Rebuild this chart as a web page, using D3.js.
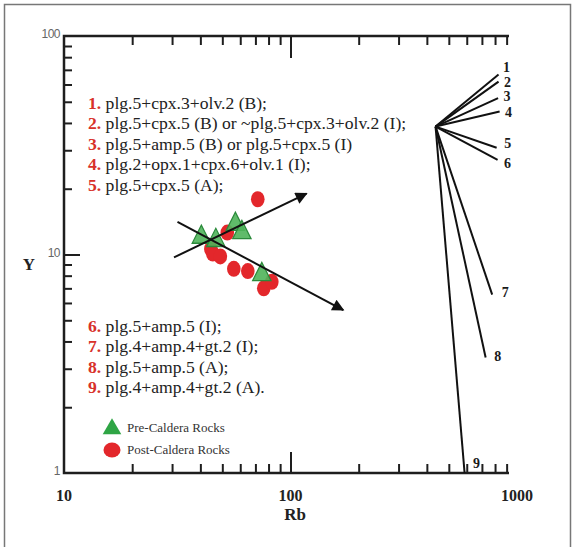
<!DOCTYPE html>
<html>
<head>
<meta charset="utf-8">
<script src="https://cdn.jsdelivr.net/npm/d3@7"></script>
<style>
  body { margin: 0; background: #fff; }
  svg { display: block; }
  .serif { font-family: "Liberation Serif", "DejaVu Serif", serif; }
</style>
</head>
<body>
<svg id="chart" width="575" height="547"></svg>
<script>
'use strict';

// Pre-Caldera samples (Rb, Y)
var preRb = [40.4, 46.8, 57.1, 61.0, 74.7];
var preY  = [12.0, 11.6, 13.75, 12.6, 8.1];

// Post-Caldera samples (Rb, Y)
var postRb = [71.7, 52.6, 44.5, 45.4, 49.0, 56.2, 64.8, 76.2, 82.7];
var postY  = [17.9, 12.6, 10.6, 10.1, 9.8, 8.6, 8.4, 7.0, 7.5];

// trend arrows: start and end (Rb, Y)
var arrowRb0 = [30.6, 31.7];
var arrowY0  = [9.7, 14.1];
var arrowRb1 = [117.7, 171];
var arrowY1  = [19.0, 5.57];

// fractionation vectors, all from one origin
var fanOrigin = [437, 38.5];
var fanRb = [829, 829, 825, 838, 813, 821, 777, 727, 587];
var fanY  = [66.6, 61.8, 52.0, 45.1, 30.8, 27.1, 6.55, 3.38, 1.0];
var fanLabels = ['1', '2', '3', '4', '5', '6', '7', '8', '9'];

// assemblage captions
var modelsTop = [
  'plg.5+cpx.3+olv.2 (B);',
  'plg.5+cpx.5 (B) or ~plg.5+cpx.3+olv.2 (I);',
  'plg.5+amp.5 (B) or plg.5+cpx.5 (I)',
  'plg.2+opx.1+cpx.6+olv.1 (I);',
  'plg.5+cpx.5 (A);'
];
var modelsBottom = [
  'plg.5+amp.5 (I);',
  'plg.4+amp.4+gt.2 (I);',
  'plg.5+amp.5 (A);',
  'plg.4+amp.4+gt.2 (A).'
];

var xMinorTicks = [20, 30, 40, 50, 60, 70, 80, 90, 200, 300, 400, 500, 600, 700, 800, 900];
var yMinorTicks = [2, 3, 4, 5, 6, 7, 8, 9, 20, 30, 40, 50, 60, 70, 80, 90];
var xTickLabels = [10, 100, 1000];
var yTickLabels = [1, 10, 100];

var svg = d3.select('#chart');

var x = d3.scaleLog().domain([10, 1000]).range([64, 517]);
var y = d3.scaleLog().domain([1, 100]).range([473, 36]);

// outer frame
svg.append('rect')
    .attr('x', 4.5).attr('y', 4.5)
    .attr('width', 566).attr('height', 560)
    .attr('fill', 'none')
    .attr('stroke', '#777')
    .attr('stroke-width', 1.5);

var axisColor = '#1e1e1e';
var lineEnd = x(1000) - 8;

function styleTicks(g) {
  g.select('.domain').remove();
  g.selectAll('.tick line').attr('stroke', axisColor).attr('stroke-width', 2);
  g.selectAll('.tick text').remove();
}

// bottom axis, ticks pointing inward
svg.append('g')
    .attr('transform', 'translate(0,' + y(1) + ')')
    .call(d3.axisBottom(x).tickValues(xMinorTicks).tickSize(-9))
    .call(styleTicks);
svg.append('g')
    .attr('transform', 'translate(0,' + y(1) + ')')
    .call(d3.axisBottom(x).tickValues([100]).tickSize(-21))
    .call(styleTicks);

// top axis
svg.append('g')
    .attr('transform', 'translate(0,' + y(100) + ')')
    .call(d3.axisTop(x).tickValues(xMinorTicks).tickSize(-9))
    .call(styleTicks);
svg.append('g')
    .attr('transform', 'translate(0,' + y(100) + ')')
    .call(d3.axisTop(x).tickValues([100]).tickSize(-22))
    .call(styleTicks);

// left axis
svg.append('g')
    .attr('transform', 'translate(' + x(10) + ',0)')
    .call(d3.axisLeft(y).tickValues(yMinorTicks).tickSize(-8))
    .call(styleTicks);
svg.append('g')
    .attr('transform', 'translate(' + x(10) + ',0)')
    .call(d3.axisLeft(y).tickValues([10]).tickSize(-16))
    .call(styleTicks);

// axis lines
svg.append('path')
    .attr('d', 'M' + lineEnd + ',' + y(1) + 'H' + x(10) + 'V' + y(100) + 'H' + lineEnd)
    .attr('fill', 'none')
    .attr('stroke', axisColor)
    .attr('stroke-width', 2.5);

// tick labels
svg.selectAll('.xlab')
    .data(xTickLabels)
  .enter().append('text')
    .attr('class', 'serif')
    .attr('x', function(d) { return x(d); })
    .attr('y', y(1) + 28)
    .attr('text-anchor', 'middle')
    .attr('font-weight', 'bold')
    .attr('font-size', 16)
    .attr('fill', '#222')
    .text(function(d) { return d; });

svg.selectAll('.ylab')
    .data(yTickLabels)
  .enter().append('text')
    .attr('x', x(10) - 4)
    .attr('y', function(d) { return y(d) + 2; })
    .attr('text-anchor', 'end')
    .attr('font-family', '"Liberation Sans Narrow", "Liberation Sans", sans-serif')
    .attr('font-size', 12)
    .attr('letter-spacing', -0.5)
    .attr('fill', '#666')
    .text(function(d) { return d; });

svg.append('text')
    .attr('class', 'serif')
    .attr('x', 295).attr('y', 520)
    .attr('text-anchor', 'middle')
    .attr('font-weight', 'bold')
    .attr('font-size', 17)
    .attr('fill', '#222')
    .text('Rb');

svg.append('text')
    .attr('class', 'serif')
    .attr('x', 29).attr('y', 270)
    .attr('text-anchor', 'middle')
    .attr('font-weight', 'bold')
    .attr('font-size', 17)
    .attr('fill', '#222')
    .text('Y');

// assemblage captions
function captions(list, startNum, top) {
  var t = svg.selectAll(null)
      .data(list)
    .enter().append('text')
      .attr('class', 'serif')
      .attr('x', 88)
      .attr('y', function(d, i) { return top + i * 20.4; })
      .attr('font-size', 17.6)
      .attr('fill', '#222');
  t.append('tspan')
      .attr('fill', '#d8312a')
      .attr('font-weight', 'bold')
      .text(function(d, i) { return (startNum + i) + '. '; });
  t.append('tspan')
      .text(function(d) { return d; });
}
captions(modelsTop, 1, 109);
captions(modelsBottom, 6, 332);

// fractionation vectors
var fan = svg.append('g');
fan.selectAll('line')
    .data(fanRb)
  .enter().append('line')
    .attr('x1', x(fanOrigin[0]))
    .attr('y1', y(fanOrigin[1]))
    .attr('x2', function(d) { return x(d); })
    .attr('y2', function(d, i) { return y(fanY[i]); })
    .attr('stroke', '#111')
    .attr('stroke-width', 2);

var labelOffset = [[8, -8], [9, 0], [9, -2], [9, 0], [11, -5], [10, 3], [13, -3], [12, -1], [12, -10]];
fan.selectAll('text')
    .data(fanLabels)
  .enter().append('text')
    .attr('class', 'serif')
    .attr('x', function(d, i) { return x(fanRb[i]) + labelOffset[i][0]; })
    .attr('y', function(d, i) { return y(fanY[i]) + labelOffset[i][1] + 5; })
    .attr('text-anchor', 'middle')
    .attr('font-weight', 'bold')
    .attr('font-size', 14)
    .attr('fill', '#1a1a1a')
    .text(function(d) { return d; });

// arrow heads
svg.append('defs').append('marker')
    .attr('id', 'head')
    .attr('viewBox', '0 0 10 10')
    .attr('refX', 9).attr('refY', 5)
    .attr('markerWidth', 7).attr('markerHeight', 6)
    .attr('markerUnits', 'strokeWidth')
    .attr('orient', 'auto')
  .append('path')
    .attr('d', 'M0,0L10,5L0,10Z')
    .attr('fill', '#111');

// sample points
var post = svg.append('g');
post.selectAll('ellipse')
    .data(postRb)
  .enter().append('ellipse')
    .attr('cx', function(d) { return x(d); })
    .attr('cy', function(d, i) { return y(postY[i]); })
    .attr('rx', 6.8).attr('ry', 8)
    .attr('fill', '#e3272b');

var tri = d3.symbol().type(d3.symbolTriangle).size(145);
var pre = svg.append('g');
pre.selectAll('path')
    .data(preRb)
  .enter().append('path')
    .attr('d', tri)
    .attr('transform', function(d, i) {
      return 'translate(' + x(d) + ',' + y(preY[i]) + ') scale(1,1.15)';
    })
    .attr('fill', '#4fb45a')
    .attr('fill-opacity', 0.9)
    .attr('stroke', '#2b8a3b')
    .attr('stroke-width', 1.2);

// trend arrows
svg.append('g').selectAll('line')
    .data(arrowRb0)
  .enter().append('line')
    .attr('x1', function(d) { return x(d); })
    .attr('y1', function(d, i) { return y(arrowY0[i]); })
    .attr('x2', function(d, i) { return x(arrowRb1[i]); })
    .attr('y2', function(d, i) { return y(arrowY1[i]); })
    .attr('stroke', '#111')
    .attr('stroke-width', 2)
    .attr('marker-end', 'url(#head)');

// legend
var legend = svg.append('g').attr('class', 'serif');
legend.append('path')
    .attr('d', d3.symbol().type(d3.symbolTriangle).size(150))
    .attr('transform', 'translate(112,429)')
    .attr('fill', '#2fa545');
legend.append('ellipse')
    .attr('cx', 112).attr('cy', 450)
    .attr('rx', 8.5).attr('ry', 7.5)
    .attr('fill', '#e3272b');
legend.append('text')
    .attr('x', 127).attr('y', 432)
    .attr('font-size', 13)
    .attr('fill', '#333')
    .text('Pre-Caldera Rocks');
legend.append('text')
    .attr('x', 127).attr('y', 454)
    .attr('font-size', 13)
    .attr('fill', '#333')
    .text('Post-Caldera Rocks');
</script>
</body>
</html>
